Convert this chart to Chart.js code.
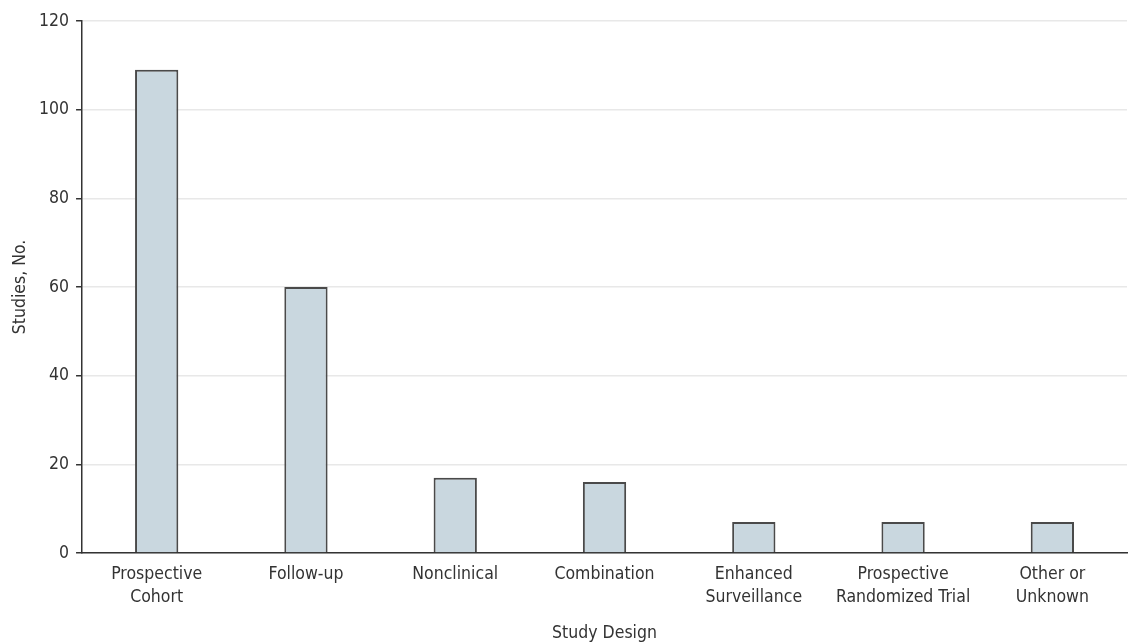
<!DOCTYPE html>
<html>
<head>
<meta charset="utf-8">
<script src="https://cdn.jsdelivr.net/npm/chart.js@4/dist/chart.umd.min.js"></script>
<style>
  html, body { margin: 0; padding: 0; background: #fff; }
  #wrap { width: 1130px; height: 642px; }
</style>
</head>
<body>
<div id="wrap"><canvas id="grafico"></canvas></div>
<script>
// categorias e valores
const categorias = [
  ['Prospective', 'Cohort'],
  'Follow-up',
  'Nonclinical',
  'Combination',
  ['Enhanced', 'Surveillance'],
  ['Prospective', 'Randomized Trial'],
  ['Other or', 'Unknown']
];
const estudos = [109, 60, 17, 16, 7, 7, 7];
const ticksY = [0, 20, 40, 60, 80, 100, 120];

const fonte = '"DejaVu Sans Condensed", "DejaVu Sans", sans-serif';
const corTexto = '#333';

const ctx = document.getElementById('grafico').getContext('2d');
new Chart(ctx, {
  type: 'bar',
  data: {
    labels: categorias,
    datasets: [{
      label: 'Studies',
      data: estudos,
      backgroundColor: '#c9d7df',
      borderColor: '#4a4a4a',
      borderWidth: 2,
      barPercentage: 0.29,
      categoryPercentage: 1
    }]
  },
  options: {
    responsive: true,
    maintainAspectRatio: false,
    animation: false,
    layout: { padding: { left: 5, right: 3, top: 21, bottom: 0 } },
    plugins: {
      legend: { display: false },
      tooltip: { enabled: false }
    },
    scales: {
      x: {
        grid: { display: false, drawTicks: false },
        border: { display: true, color: '#333', width: 1.5 },
        ticks: {
          color: corTexto,
          font: { family: fonte, size: 17.5, lineHeight: 1.3 },
          padding: 10,
          maxRotation: 0,
          autoSkip: false
        },
        title: {
          display: true,
          text: 'Study Design',
          color: corTexto,
          font: { family: fonte, size: 17.5, lineHeight: 1.0 },
          padding: { top: 6, bottom: 0 }
        }
      },
      y: {
        min: 0,
        max: 120,
        afterBuildTicks: axis => { axis.ticks = ticksY.map(v => ({ value: v })); },
        grid: { color: '#e8e8e8', lineWidth: 1.5, tickColor: '#333', tickLength: 6 },
        border: { display: true, color: '#333', width: 1.5 },
        ticks: {
          color: corTexto,
          font: { family: fonte, size: 17.5 },
          padding: 7
        },
        title: {
          display: true,
          text: 'Studies, No.',
          color: corTexto,
          font: { family: fonte, size: 17.5 },
          padding: { top: 5, bottom: 1 }
        }
      }
    }
  }
});
</script>
</body>
</html>
